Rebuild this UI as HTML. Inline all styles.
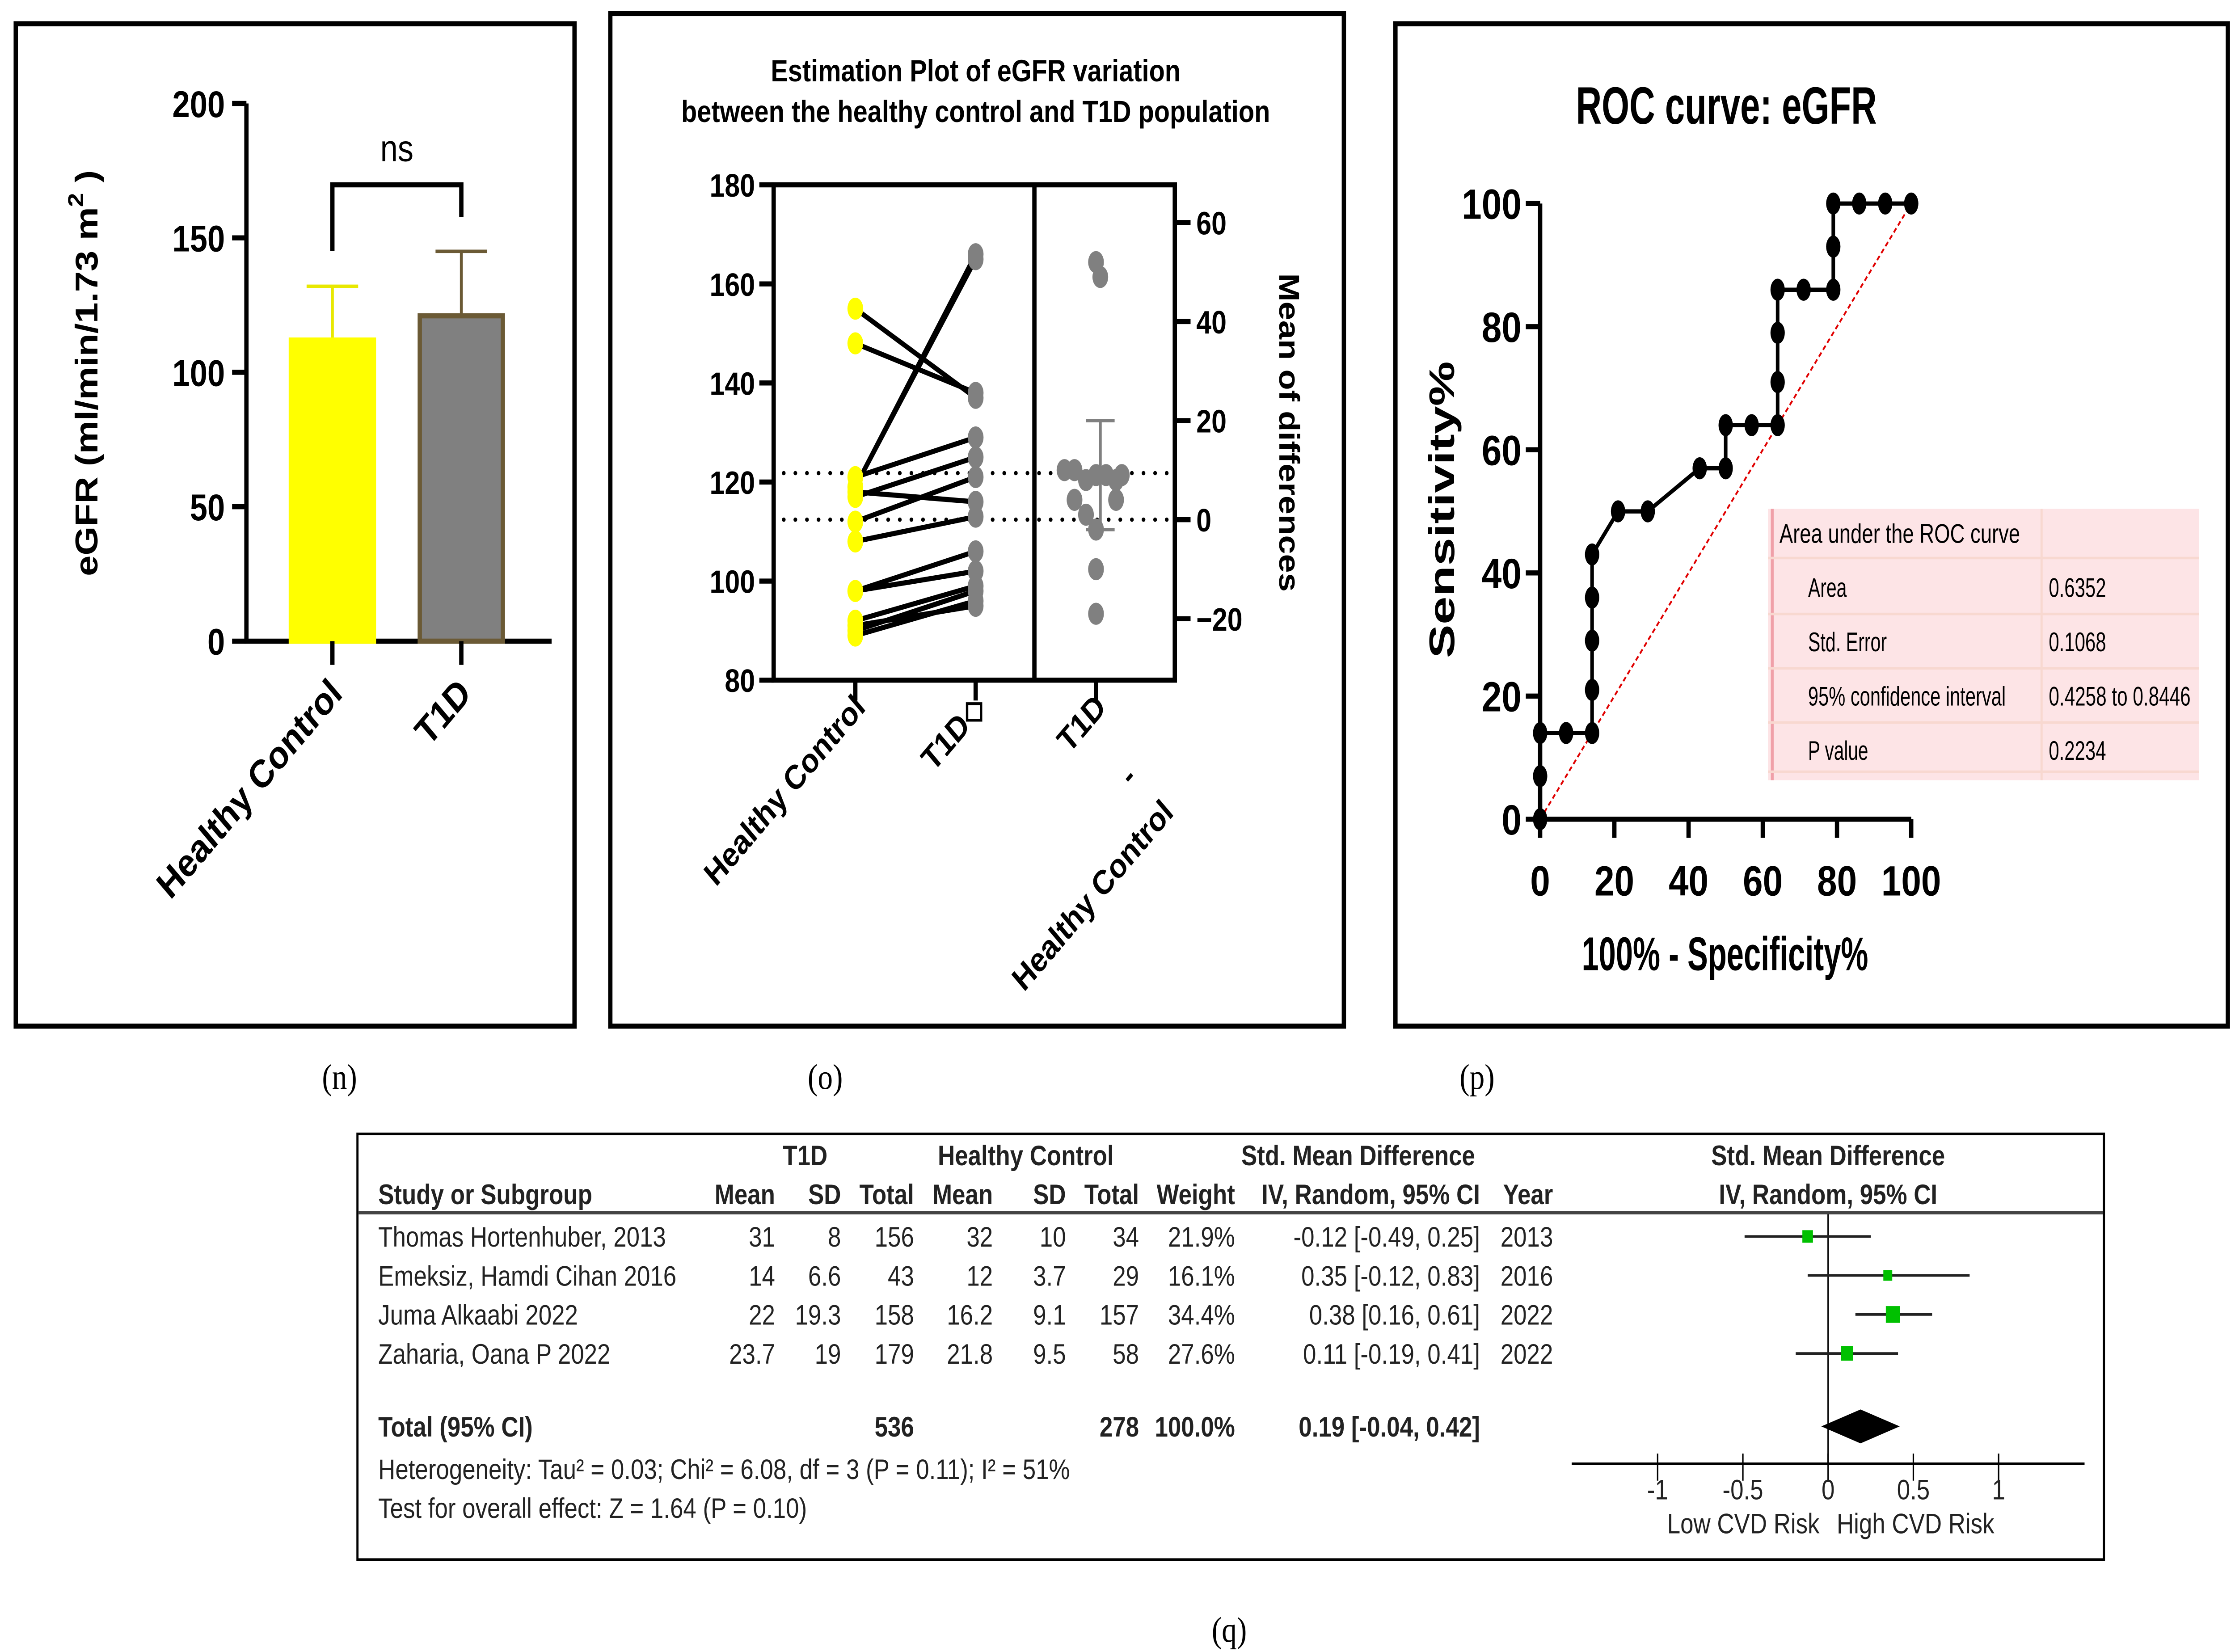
<!DOCTYPE html>
<html><head><meta charset="utf-8"><style>
html,body{margin:0;padding:0;background:#fff;overflow:hidden}
svg{display:block;width:100vw;height:100vh}
.b{font-family:"Liberation Sans",sans-serif;font-weight:bold}
.n{font-family:"Liberation Sans Narrow","Liberation Sans",sans-serif}
.s{font-family:"Liberation Serif",serif}
</style></head><body>
<svg id="root" viewBox="0 0 1560 974" preserveAspectRatio="none" xmlns="http://www.w3.org/2000/svg">
<rect width="1560" height="974" fill="#fff"/>
<g id="pn"></g>
<g id="po"></g>
<g id="pp"></g>
<g id="pq"></g>
</svg>
<script>
// Panel n data
const barCats = ["Healthy Control", "T1D"];
const barMeans = [112, 121];
const barErr = [20, 24];
const nTicks = [0, 50, 100, 150, 200];
// Panel o data
const hcVals = [155, 148, 121, 119, 119, 117, 118, 112, 108, 98, 98, 92, 90, 89, 91];
const t1dVals = [137, 138, 129, 166, 165, 125, 116, 121, 113, 106, 102, 99, 98, 96, 95];
const diffVals = [52, 49, 10, 10, 9, 8, 9, 8, 9, 4, 4, 1, -2, -10, -19];
const diffMean = 9.4;
const diffCI = [-2, 20];
const oLeftTicks = [80, 100, 120, 140, 160, 180];
const oRightTicks = [-20, 0, 20, 40, 60];
// Panel p data
const rocX = [0,0,0,7,14,14,14,14,14,21,29,43,50,50,57,64,64,64,64,71,79,79,79,86,93,100];
const rocY = [0,7,14,14,14,21,29,36,43,50,50,57,57,64,64,64,71,79,86,86,86,93,100,100,100,100];
const pTicks = [0, 20, 40, 60, 80, 100];
const aucLabels = ["Area", "Std. Error", "95% confidence interval", "P value"];
const aucValues = ["0.6352", "0.1068", "0.4258 to 0.8446", "0.2234"];
// Panel q data
const studies = ["Thomas Hortenhuber, 2013", "Emeksiz, Hamdi Cihan 2016", "Juma Alkaabi 2022", "Zaharia, Oana P 2022"];
const t1dMean = ["31", "14", "22", "23.7"];
const t1dSD = ["8", "6.6", "19.3", "19"];
const t1dTotal = ["156", "43", "158", "179"];
const hcMean = ["32", "12", "16.2", "21.8"];
const hcSD = ["10", "3.7", "9.1", "9.5"];
const hcTotal = ["34", "29", "157", "58"];
const weights = [21.9, 16.1, 34.4, 27.6];
const smd = [-0.12, 0.35, 0.38, 0.11];
const lo = [-0.49, -0.12, 0.16, -0.19];
const hi = [0.25, 0.83, 0.61, 0.41];
const years = ["2013", "2016", "2022", "2022"];
const totalEst = [0.19, -0.04, 0.42];
const qTicks = [-1, -0.5, 0, 0.5, 1];

const NS = "http://www.w3.org/2000/svg";
function mk(parent, tag, attrs, text) {
  const e = document.createElementNS(NS, tag);
  for (const k in attrs) e.setAttribute(k, attrs[k]);
  if (text !== undefined) e.textContent = text;
  parent.appendChild(e);
  return e;
}
function fmt(v){return v.toFixed(2);}

// ===== Panel n =====
(function(){
  const g = document.getElementById('pn');
  const fr = mk(g,'rect',{x:11,y:14,width:390,height:591,fill:'none',stroke:'#000','stroke-width':3});
   
  const y = v => 378 - v*(317/200);
  const ax = mk(g,'path',{d:'M172 61 V378 H385',fill:'none',stroke:'#000','stroke-width':3});
   
  nTicks.forEach(t=>{
    const tk = mk(g,'line',{x1:162,x2:172,y1:y(t),y2:y(t),stroke:'#000','stroke-width':3});
     
    const tl = mk(g,'text',{x:157,y:y(t)+8,'text-anchor':'end','font-size':22,class:'b'},String(t));
     
  });
  const yt = mk(g,'text',{transform:'translate(68,220) rotate(-90)','text-anchor':'middle','font-size':22,class:'b'},'eGFR (ml/min/1.73 m');
   
  mk(yt,'tspan',{dy:-10,'font-size':15},'2');
  mk(yt,'tspan',{dy:10},' )');
  const cx = [232, 322], fills=['#ffff00','#808080'], strokes=['#ffff00','#6b5a35'];
  barCats.forEach((c,i)=>{
    const top = y(barMeans[i]);
    const eb = mk(g,'path',{d:`M${cx[i]} ${top} V${y(barMeans[i]+barErr[i])} M${cx[i]-18} ${y(barMeans[i]+barErr[i])} H${cx[i]+18}`,stroke:i?'#6b5a35':'#e8e800','stroke-width':2,fill:'none'});
     
    const r = mk(g,'rect',{x:cx[i]-29,y:top,width:58,height:378-top,fill:fills[i],stroke:strokes[i],'stroke-width':3});
     
    const tk = mk(g,'line',{x1:cx[i],x2:cx[i],y1:378,y2:392,stroke:'#000','stroke-width':3});
     
    const lab = mk(g,'text',{transform:`translate(${cx[i]+8},${410}) rotate(-45)`,'text-anchor':'end','font-size':23,class:'b'},c);
     
  });
  const br = mk(g,'path',{d:'M232 148 V109 H322 V128',fill:'none',stroke:'#000','stroke-width':3});
   
  const ns = mk(g,'text',{x:277,y:95,'text-anchor':'middle','font-size':22,class:'n'},'ns');
   
})();

// ===== Panel o =====
(function(){
  const g = document.getElementById('po');
  const fr = mk(g,'rect',{x:426,y:8,width:512,height:597,fill:'none',stroke:'#000','stroke-width':3});
   
  const t1 = mk(g,'text',{x:681,y:48,'text-anchor':'middle','font-size':18,class:'b'},'Estimation Plot of eGFR variation');
   
  const t2 = mk(g,'text',{x:681,y:72,'text-anchor':'middle','font-size':18,class:'b'},'between the healthy control and T1D population');
   
  const yL = v => 401 - (v-80)*2.92;
  const zero = 112.4;
  const yR = v => yL(zero + v);
  const box = mk(g,'path',{d:'M540 109 H820 V401 H540 Z M722 109 V401',fill:'none',stroke:'#000','stroke-width':3});
   
  oLeftTicks.forEach(t=>{
    const tk = mk(g,'line',{x1:530,x2:540,y1:yL(t),y2:yL(t),stroke:'#000','stroke-width':3});
     
    const tl = mk(g,'text',{x:527,y:yL(t)+7,'text-anchor':'end','font-size':19,class:'b'},String(t));
     
  });
  oRightTicks.forEach(t=>{
    const tk = mk(g,'line',{x1:820,x2:831,y1:yR(t),y2:yR(t),stroke:'#000','stroke-width':3});
     
    const tl = mk(g,'text',{x:835,y:yR(t)+7,'font-size':19,class:'b'},(t<0?'\u2212':'')+Math.abs(t));
     
  });
  const rt = mk(g,'text',{transform:'translate(893,255) rotate(90)','text-anchor':'middle','font-size':20,class:'b'},'Mean of differences');
   
  [zero, zero+diffMean].forEach((v,i)=>{
    const l = mk(g,'line',{x1:547,x2:818,y1:yL(v),y2:yL(v),stroke:'#000','stroke-width':2.5,'stroke-dasharray':'0.1 8','stroke-linecap':'round'});
     
  });
  const xH=597, xT=681, xD=765;
  hcVals.forEach((v,i)=>{
    const l = mk(g,'line',{x1:xH,y1:yL(v),x2:xT,y2:yL(t1dVals[i]),stroke:'#000','stroke-width':3});
     
  });
  hcVals.forEach(v=>{
    const c = mk(g,'ellipse',{cx:xH,cy:yL(v),rx:5.5,ry:6.5,fill:'#ffff00'});
     
  });
  t1dVals.forEach(v=>{
    const c = mk(g,'ellipse',{cx:xT,cy:yL(v),rx:5.5,ry:6.5,fill:'#808080'});
     
  });
  const eb = mk(g,'path',{d:`M758 ${yR(diffCI[1])} H778 M768 ${yR(diffCI[1])} V${yR(diffCI[0])} M758 ${yR(diffCI[0])} H778 M758 ${yR(diffMean)} H781`,stroke:'#808080','stroke-width':2,fill:'none'});
   
  const offs = [0,3,-22,-15,0,-7,7,14,18,-15,14,-7,0,0,0];
  diffVals.forEach((v,i)=>{
    const c = mk(g,'ellipse',{cx:xD+offs[i],cy:yR(v),rx:5.5,ry:6.5,fill:'#808080'});
     
  });
  [[xH,'Healthy Control'],[xT,'T1D\u25c7'],[xD,'T1D']].forEach((p,i)=>{
    const tk = mk(g,'line',{x1:p[0],x2:p[0],y1:401,y2:413,stroke:'#000','stroke-width':3});
     
    const lab = mk(g,'text',{transform:`translate(${p[0]+8},${418}) rotate(-45)`,'text-anchor':'end','font-size':20,class:'b'},p[1]);
     
  });
  const d1 = mk(g,'text',{transform:'translate(792,462) rotate(-45)','text-anchor':'middle','font-size':20,class:'b'},'-');
   
  const d2 = mk(g,'text',{transform:'translate(820,480) rotate(-45)','text-anchor':'end','font-size':20,class:'b'},'Healthy Control');
   
})();

// ===== Panel p =====
(function(){
  const g = document.getElementById('pp');
  const fr = mk(g,'rect',{x:974,y:14,width:581,height:591,fill:'none',stroke:'#000','stroke-width':3});
   
  const X = v => 1075 + v*2.59, Y = v => 483 - v*3.63;
  const t = mk(g,'text',{x:1100,y:73,'font-size':31,class:'n','font-weight':'bold',textLength:210,lengthAdjust:'spacingAndGlyphs'},'ROC curve: eGFR');
   
  const ax = mk(g,'path',{d:`M1075 ${Y(100)} V483 H${X(100)}`,fill:'none',stroke:'#000','stroke-width':3});
   
  pTicks.forEach(v=>{
    const a = mk(g,'line',{x1:1065,x2:1075,y1:Y(v),y2:Y(v),stroke:'#000','stroke-width':3});
     
    const al = mk(g,'text',{x:1062,y:Y(v)+9,'text-anchor':'end','font-size':25,class:'n','font-weight':'bold'},String(v));
     
    const b = mk(g,'line',{x1:X(v),x2:X(v),y1:483,y2:494,stroke:'#000','stroke-width':3});
     
    const bl = mk(g,'text',{x:X(v),y:528,'text-anchor':'middle','font-size':25,class:'n','font-weight':'bold'},String(v));
     
  });
  const xt = mk(g,'text',{x:1104,y:572,'font-size':28,class:'n','font-weight':'bold',textLength:200,lengthAdjust:'spacingAndGlyphs'},'100% - Specificity%');
   
  const yt = mk(g,'text',{transform:'translate(1015,388) rotate(-90)','font-size':25,class:'n','font-weight':'bold',textLength:175,lengthAdjust:'spacingAndGlyphs'},'Sensitivity%');
   
  const dg = mk(g,'line',{x1:X(0),y1:Y(0),x2:X(100),y2:Y(100),stroke:'#e00000','stroke-width':1.2,'stroke-dasharray':'3 2'});
   
  const pts = rocX.map((x,i)=>X(x)+','+Y(rocY[i])).join(' ');
  const pl = mk(g,'polyline',{points:pts,fill:'none',stroke:'#000','stroke-width':2.5});
   
  rocX.forEach((x,i)=>{
    const c = mk(g,'ellipse',{cx:X(x),cy:Y(rocY[i]),rx:5,ry:6.5,fill:'#000'});
     
  });
  const tb = mk(g,'g',{});
   
  mk(tb,'rect',{x:1234,y:300,width:301,height:160,fill:'#fde4e6'});
  mk(tb,'line',{x1:1237,x2:1237,y1:300,y2:460,stroke:'#f0a0a8','stroke-width':2});
  mk(tb,'line',{x1:1425,x2:1425,y1:300,y2:460,stroke:'#f8d8d0','stroke-width':1.5});
  [329,362,394,426,455].forEach(yy=>mk(tb,'line',{x1:1234,x2:1535,y1:yy,y2:yy,stroke:'#f8d8d0','stroke-width':1.5}));
  const h = mk(tb,'text',{x:1242,y:320,'font-size':16,class:'n',textLength:168,lengthAdjust:'spacingAndGlyphs'},'Area under the ROC curve');
   
  const lw = [27, 55, 138, 42], vw = [40, 40, 99, 40];
  aucLabels.forEach((l,i)=>{
    const a = mk(tb,'text',{x:1262,y:352+i*32,'font-size':16,class:'n',textLength:lw[i],lengthAdjust:'spacingAndGlyphs'},l);
     
    const b = mk(tb,'text',{x:1430,y:352+i*32,'font-size':16,class:'n',textLength:vw[i],lengthAdjust:'spacingAndGlyphs'},aucValues[i]);
     
  });
})();

// ===== captions =====
(function(){
  const g = document.getElementById('root');
  [['(n)',237,642],['(o)',576,642],['(p)',1031,642],['(q)',858,968]].forEach(c=>{
    const t = mk(g,'text',{x:c[1],y:c[2],'text-anchor':'middle','font-size':21,class:'s'},c[0]);
     
  });
})();

// ===== Panel q =====
(function(){
  const g = document.getElementById('pq');
  const fr = mk(g,'rect',{x:249.5,y:668.5,width:1219,height:251,fill:'none',stroke:'#000','stroke-width':1.5});
   
  const T = (x,y,s,anchor,name,bold)=>{
    const e = mk(g,'text',{x:x,y:y,'font-size':16.5,class:'n','text-anchor':anchor||'start',fill:'#222','font-weight':bold?'bold':'normal'},s);
     
    return e;
  };
  T(562,687,'T1D','middle','group-header',1);
  T(716,687,'Healthy Control','middle','group-header',1);
  T(948,687,'Std. Mean Difference','middle','group-header',1);
  T(1276,687,'Std. Mean Difference','middle','group-header',1);
  T(264,710,'Study or Subgroup','start','column-header',1);
  [[541,'Mean'],[587,'SD'],[638,'Total'],[693,'Mean'],[744,'SD'],[795,'Total'],[862,'Weight'],[1033,'IV, Random, 95% CI'],[1084,'Year']].forEach(h=>T(h[0],710,h[1],'end','column-header',1));
  T(1276,710,'IV, Random, 95% CI','middle','column-header',1);
  const hl = mk(g,'line',{x1:250,x2:1468,y1:715,y2:715,stroke:'#444','stroke-width':2});
   
  const X = v => 1276 + v*119;
  const zl = mk(g,'line',{x1:X(0),x2:X(0),y1:716,y2:863,stroke:'#000','stroke-width':1});
   
  studies.forEach((s,i)=>{
    const y = 735 + i*23;
    T(264,y,s,'start','study-name');
    T(541,y,t1dMean[i],'end','t1d-mean');
    T(587,y,t1dSD[i],'end','t1d-sd');
    T(638,y,t1dTotal[i],'end','t1d-total');
    T(693,y,hcMean[i],'end','hc-mean');
    T(744,y,hcSD[i],'end','hc-sd');
    T(795,y,hcTotal[i],'end','hc-total');
    T(862,y,weights[i].toFixed(1)+'%','end','weight');
    T(1033,y,fmt(smd[i])+' ['+fmt(lo[i])+', '+fmt(hi[i])+']','end','smd-ci');
    T(1084,y,years[i],'end','year');
    const cy = y-6;
    const ci = mk(g,'line',{x1:X(lo[i]),x2:X(hi[i]),y1:cy,y2:cy,stroke:'#222','stroke-width':1.5});
     
    const sz = 3 + weights[i]*0.2;
    const sq = mk(g,'rect',{x:X(smd[i])-sz/2,y:cy-sz/2,width:sz,height:sz,fill:'#00c000'});
     
  });
  T(264,847,'Total (95% CI)','start','total-label',1);
  T(638,847,'536','end','t1d-total-sum',1);
  T(795,847,'278','end','hc-total-sum',1);
  T(862,847,'100.0%','end','weight-total',1);
  T(1033,847,fmt(totalEst[0])+' ['+fmt(totalEst[1])+', '+fmt(totalEst[2])+']','end','total-smd',1);
  T(264,872,'Heterogeneity: Tau\u00b2 = 0.03; Chi\u00b2 = 6.08, df = 3 (P = 0.11); I\u00b2 = 51%','start','heterogeneity-text');
  T(264,895,'Test for overall effect: Z = 1.64 (P = 0.10)','start','overall-effect-text');
  const dm = mk(g,'polygon',{points:`${X(totalEst[1])},841 ${X(totalEst[0])},831 ${X(totalEst[2])},841 ${X(totalEst[0])},851`,fill:'#000'});
   
  const ax = mk(g,'line',{x1:1097,x2:1455,y1:863,y2:863,stroke:'#000','stroke-width':1.5});
   
  qTicks.forEach(t=>{
    const tk = mk(g,'line',{x1:X(t),x2:X(t),y1:857,y2:873,stroke:'#000','stroke-width':1});
     
    T(X(t),884,String(t),'middle','x-tick-label');
  });
  T(1270,904,'Low CVD Risk','end','x-axis-label-left');
  T(1282,904,'High CVD Risk','start','x-axis-label-right');
})();
</script>
</body></html>
